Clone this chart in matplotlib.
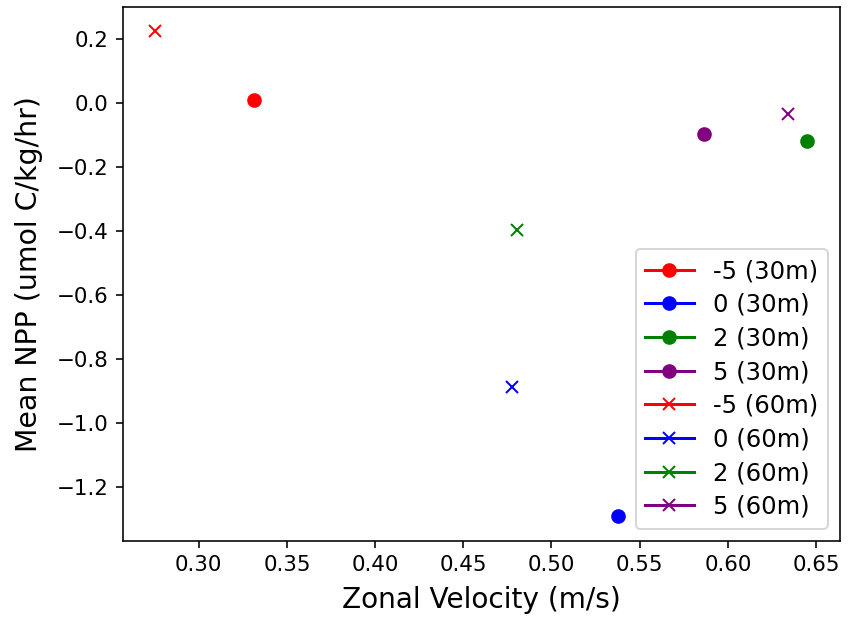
import matplotlib
matplotlib.use("Agg")
import matplotlib.pyplot as plt

labels_30 = ["-5 (30m)", "0 (30m)", "2 (30m)", "5 (30m)"]
labels_60 = ["-5 (60m)", "0 (60m)", "2 (60m)", "5 (60m)"]
colors = ["red", "blue", "green", "purple"]

vel_30 = [0.3311, 0.5377, 0.6451, 0.5867]
npp_30 = [0.0103, -1.2925, -0.118, -0.0950]
vel_60 = [0.2754, 0.4777, 0.4802, 0.6343]
npp_60 = [0.2265, -0.8874, -0.3978, -0.0345]

DPI = 144
fig = plt.figure(figsize=(848 / DPI, 618 / DPI), dpi=DPI)
ax = fig.add_axes([0.1447, 0.1251, 0.9906 - 0.1447, 0.9892 - 0.1251])

for x, y, c, lab in zip(vel_30, npp_30, colors, labels_30):
    ax.plot([x], [y], marker="o", color=c, label=lab, markersize=6.3)
for x, y, c, lab in zip(vel_60, npp_60, colors, labels_60):
    ax.plot([x], [y], marker="x", color=c, label=lab, markersize=6.3)

ax.set_xlabel("Zonal Velocity (m/s)", fontsize=14.0, labelpad=5.5)
ax.set_ylabel("Mean NPP (umol C/kg/hr)", fontsize=14.2, labelpad=7)
ax.tick_params(labelsize=10.7)
ax.legend(loc="lower right", fontsize=12.1, labelspacing=0.4)

fig.savefig("out.png", dpi=DPI)
